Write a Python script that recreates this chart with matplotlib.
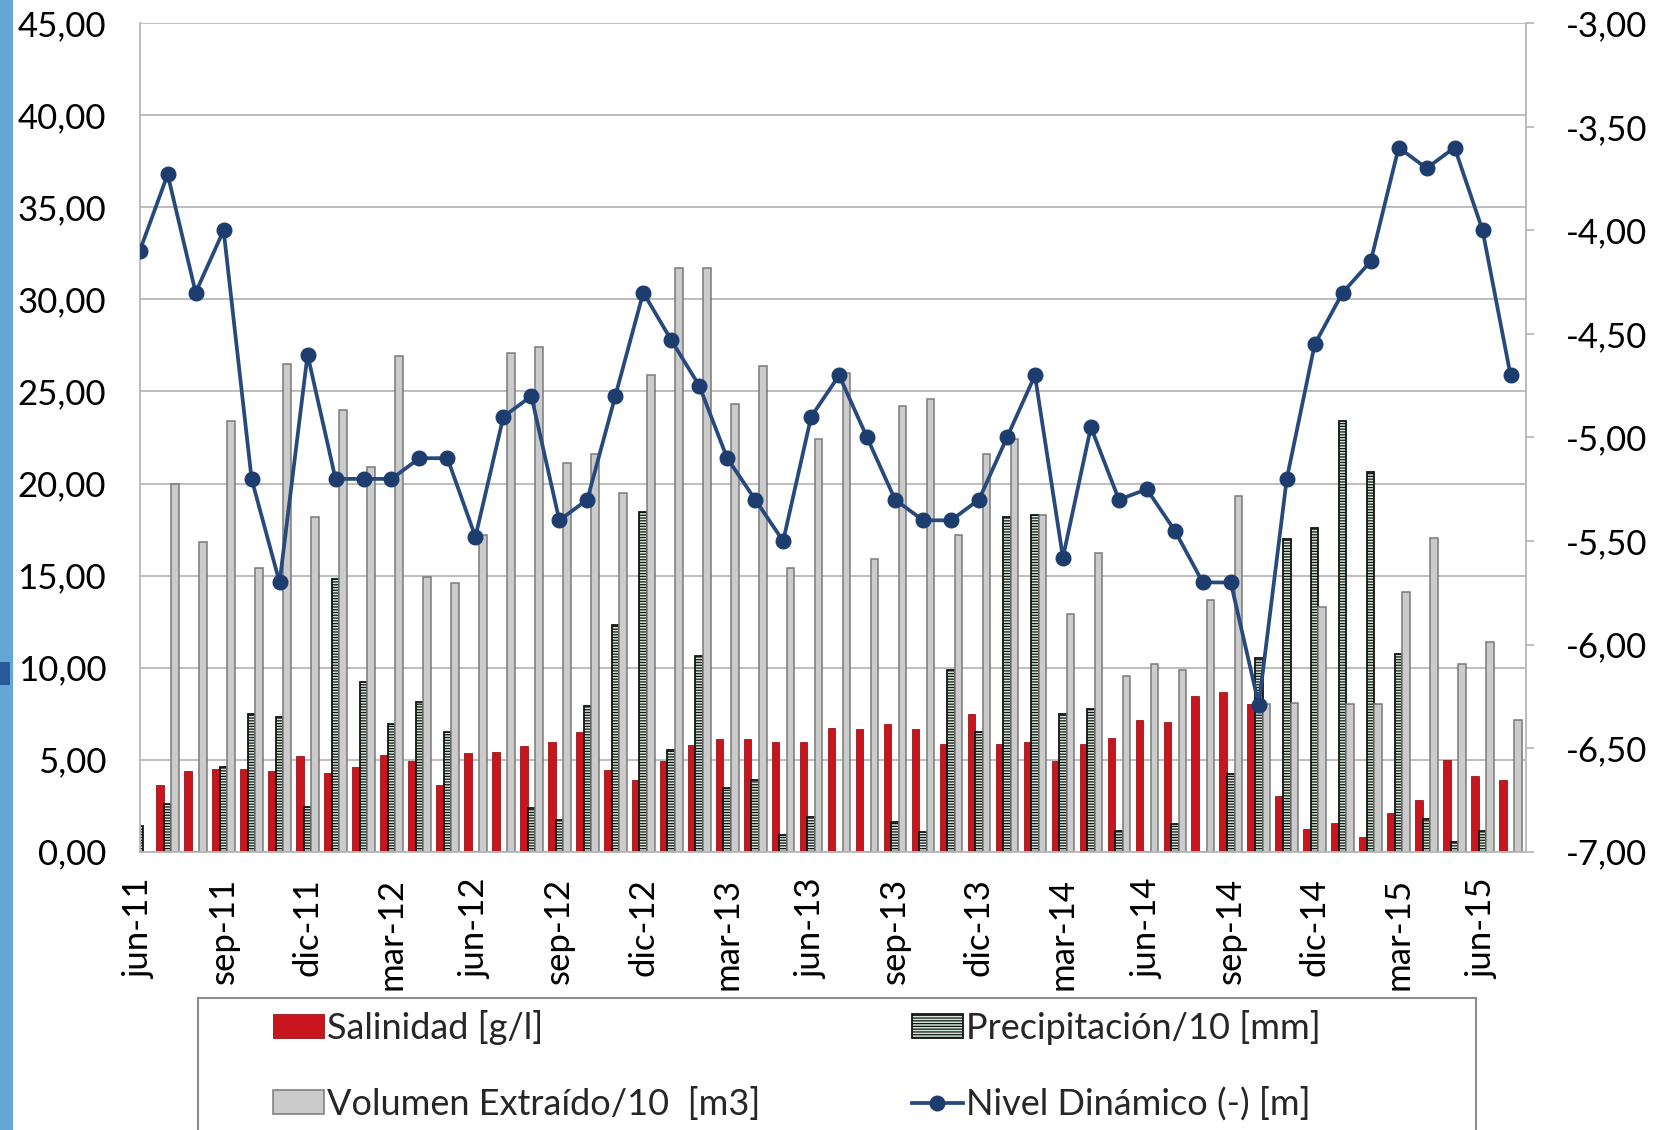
import numpy as np
import matplotlib.pyplot as plt
from matplotlib.patches import Rectangle
from matplotlib.ticker import FuncFormatter

plt.rcParams['font.family'] = ['Lato', 'DejaVu Sans']
plt.rcParams['hatch.linewidth'] = 0.9
plt.rcParams['text.color'] = '#262626'

# monthly series, jun-11 .. jul-15
meses = ['ene', 'feb', 'mar', 'abr', 'may', 'jun', 'jul', 'ago', 'sep', 'oct', 'nov', 'dic']
fechas = [f"{meses[(5 + i) % 12]}-{11 + (5 + i) // 12}" for i in range(50)]

salinidad = [np.nan, 3.6, 4.4, 4.5, 4.5, 4.4, 5.2, 4.3, 4.6, 5.25,
             4.9, 3.6, 5.35, 5.4, 5.75, 5.95, 6.5, 4.45, 3.9, 4.95,
             5.8, 6.1, 6.1, 5.95, 5.95, 6.7, 6.65, 6.95, 6.65, 5.85,
             7.5, 5.85, 5.95, 4.95, 5.85, 6.2, 7.15, 7.05, 8.45, 8.7,
             8.0, 3.0, 1.25, 1.55, 0.8, 2.1, 2.8, 5.0, 4.1, 3.9]

precipitacion = [1.4, 2.6, 0, 4.6, 7.5, 7.3, 2.45, 14.8, 9.2, 6.95,
                 8.15, 6.5, 0, 0, 2.35, 1.7, 7.9, 12.3, 18.45, 5.5,
                 10.65, 3.45, 3.9, 0.9, 1.9, 0, 0, 1.6, 1.05, 9.85,
                 6.5, 18.2, 18.3, 7.5, 7.75, 1.15, 0, 1.5, 0, 4.2,
                 10.5, 17.0, 17.6, 23.4, 20.6, 10.75, 1.75, 0.55, 1.15, 0]

volumen = [np.nan, 20.0, 16.8, 23.4, 15.4, 26.5, 18.2, 24.0, 20.9, 26.9,
           14.9, 14.6, 17.2, 27.1, 27.4, 21.1, 21.6, 19.5, 25.9, 31.7,
           31.7, 24.3, 26.4, 15.4, 22.4, 26.0, 15.9, 24.2, 24.6, 17.2,
           21.6, 22.4, 18.3, 12.9, 16.2, 9.55, 10.2, 9.85, 13.65, 19.3,
           8.0, 8.05, 13.3, 8.0, 8.0, 14.1, 17.05, 10.2, 11.4, 7.15]

nivel = [-4.10, -3.73, -4.30, -4.00, -5.20, -5.70, -4.60, -5.20, -5.20, -5.20,
         -5.10, -5.10, -5.48, -4.90, -4.80, -5.40, -5.30, -4.80, -4.30, -4.53,
         -4.75, -5.10, -5.30, -5.50, -4.90, -4.70, -5.00, -5.30, -5.40, -5.40,
         -5.30, -5.00, -4.70, -5.58, -4.95, -5.30, -5.25, -5.45, -5.70, -5.70,
         -6.29, -5.20, -4.55, -4.30, -4.15, -3.60, -3.70, -3.60, -4.00, -4.70]

coma = FuncFormatter(lambda v, pos: f"{v:.2f}".replace('.', ','))
gris = '#b8b8b8'
fs = 25

fig = plt.figure(figsize=(16.59, 11.30), dpi=100)

# slide border on the left
fig.add_artist(Rectangle((0, 0), 13 / 1659, 1, transform=fig.transFigure,
                         color='#62a8d2', lw=0))
fig.add_artist(Rectangle((0, 1 - 685 / 1130), 10 / 1659, 23 / 1130,
                         transform=fig.transFigure, color='#2a5a9a', lw=0))

ax = fig.add_axes([0.0842, 0.2463, 0.9198 - 0.0842, 0.9794 - 0.2463])
x = np.arange(len(fechas))
w = 0.27

b_sal = ax.bar(x - w, salinidad, w, color='#c8161f', edgecolor='#981419',
               linewidth=0.6, label='Salinidad [g/l]')
b_pre = ax.bar(x, precipitacion, w, facecolor='#cfe6d6', edgecolor='#141414',
               hatch='------', linewidth=1.3, label='Precipitación/10 [mm]')
b_vol = ax.bar(x + w, volumen, w, facecolor='#cbcbcb', edgecolor='#7a7a7a',
               linewidth=1.1, label='Volumen Extraído/10  [m3]')

ax.set_xlim(0, 49.55)
ax.set_ylim(0, 45)
ax.set_yticks(np.arange(0, 46, 5))
ax.yaxis.set_major_formatter(coma)
ax.grid(axis='y', color=gris, lw=1.3)
ax.set_axisbelow(True)
ax.set_xticks(x[::3])
ax.set_xticklabels(fechas[::3], rotation=90)
ax.tick_params(axis='x', length=0, pad=19, labelsize=fs)
ax.tick_params(axis='y', length=0, pad=24, labelsize=fs)
ax.spines['top'].set_visible(False)
ax.spines['right'].set_visible(False)
for s in ('left', 'bottom'):
    ax.spines[s].set_color(gris)
    ax.spines[s].set_linewidth(1.3)

ax2 = ax.twinx()
l_niv, = ax2.plot(x, nivel, color='#27497c', lw=2.7, marker='o', ms=10.5,
                  mfc='#1c3d6e', mec='#1c3d6e', label='Nivel Dinámico (-) [m]')
ax2.set_ylim(-7, -3)
ax2.set_yticks(np.arange(-7, -2.99, 0.5))
ax2.yaxis.set_major_formatter(coma)
ax2.tick_params(axis='y', length=6, width=1.3, color=gris, pad=23, labelsize=fs)
for s in ('top', 'left', 'bottom'):
    ax2.spines[s].set_visible(False)
ax2.spines['right'].set_color(gris)
ax2.spines['right'].set_linewidth(1.3)

# legend box runs off the bottom edge
fig.add_artist(Rectangle((198 / 1659, -0.05), 1278 / 1659, 0.05 + 0.1168,
                         transform=fig.transFigure, fill=False,
                         edgecolor='#8c8c8c', lw=1.5))
fig.legend([b_sal, b_vol, b_pre, l_niv],
           [b_sal.get_label(), b_vol.get_label(), b_pre.get_label(), l_niv.get_label()],
           ncol=2, loc='upper left', bbox_to_anchor=(273 / 1659, 1 - 1010 / 1130),
           frameon=False, fontsize=26, handlelength=1.4, handleheight=0.65,
           handletextpad=0.1, columnspacing=4.2, labelspacing=1.15,
           borderpad=0, borderaxespad=0)

fig.savefig('out.png', dpi=100)
